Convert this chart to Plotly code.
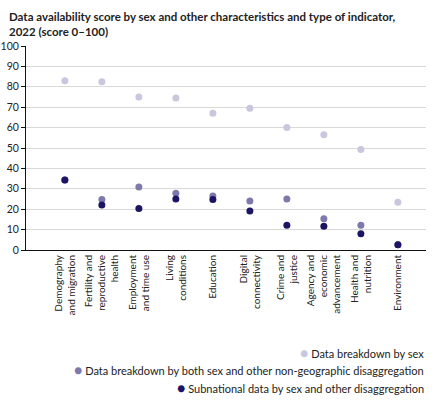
import plotly.graph_objects as go

categories = [
    "Demography<br>and migration",
    "Fertility and<br>reproductive<br>health",
    "Employment<br>and time use",
    "Living<br>conditions",
    "Education",
    "Digital<br>connectivity",
    "Crime and<br>justice",
    "Agency and<br>economic<br>advancement",
    "Health and<br>nutrition",
    "Environment",
]
sex_only = [83, 82.5, 75, 74.5, 67, 69.5, 60, 56.5, 49.3, 23.4]
sex_other = [34.3, 24.8, 30.9, 27.8, 26.5, 24, 25, 15.3, 12.1, 2.6]
subnational = [34.3, 22, 20.3, 25, 24.7, 19.1, 12.1, 11.6, 8, 2.6]

names = [
    "Data breakdown by sex",
    "Data breakdown by both sex and other non-geographic disaggregation",
    "Subnational data by sex and other disaggregation",
]
colors = ["#c9c7dd", "#7d79ab", "#1b1563"]
series = [sex_only, sex_other, subnational]
legend_y = [-0.5, -0.588, -0.672]
title_text = ("<b>Data availability score by sex and other characteristics and type of indicator,"
              "<br>2022 (score 0–100)</b>")

FONT = "Lato"
fig = go.Figure()
for nm, col, vals in zip(names, colors, series):
    fig.add_trace(go.Scatter(
        x=categories, y=vals, mode="markers", name=nm,
        marker=dict(color=col, size=7), showlegend=False,
    ))

annotations = [dict(
    text=title_text, x=-0.0475, xref="paper", xanchor="left", align="left",
    y=1.11, yref="paper", yanchor="middle", showarrow=False,
    font=dict(family=FONT, size=11.5, color="#222"),
)]
for nm, col, ly in zip(names, colors, legend_y):
    annotations.append(dict(
        text=f'<span style="color:{col};font-size:14px">●</span> {nm}',
        x=1.0, xref="paper", xanchor="right", y=ly, yref="paper", yanchor="middle",
        showarrow=False, font=dict(family=FONT, size=11, color="#222"),
    ))

fig.update_layout(
    width=442, height=409,
    margin=dict(l=26, r=16, t=46, b=159),
    paper_bgcolor="white", plot_bgcolor="white",
    annotations=annotations,
    showlegend=False,
)
fig.update_xaxes(
    type="category", range=[-1.05, 9.76],
    tickangle=-90, showgrid=False, showline=True, linecolor="#111", linewidth=1,
    ticks="", tickfont=dict(family=FONT, size=10, color="#222"), automargin=False,
)
fig.update_yaxes(
    range=[0, 100], dtick=10, showgrid=True, gridcolor="#d9d9d9", gridwidth=1,
    showline=True, linecolor="#111", linewidth=1, ticks="outside", ticklen=4,
    tickcolor="#111", zeroline=False, automargin=False,
    tickfont=dict(family=FONT, size=10.5, color="#222"),
)
fig.write_html("out.html")
